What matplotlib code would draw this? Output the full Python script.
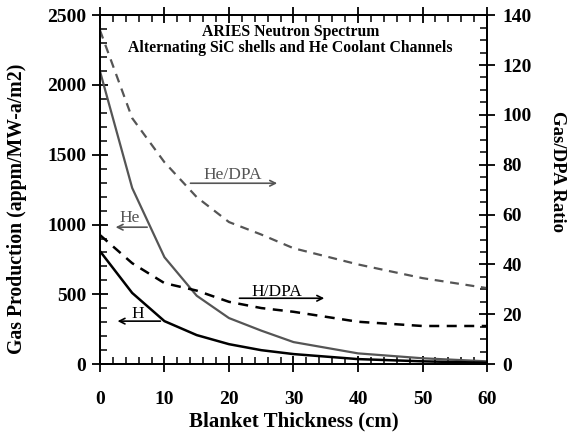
import matplotlib
matplotlib.use('Agg')
import matplotlib.pyplot as plt
from matplotlib.ticker import MultipleLocator

plt.rcParams['font.family'] = 'Liberation Serif'
plt.rcParams['font.weight'] = 'bold'
plt.rcParams['axes.labelweight'] = 'bold'

# blanket thickness (cm)
thick = [0, 5, 10, 15, 20, 25, 30, 40, 50, 60]
# gas production (appm/MW-a/m2)
he_prod = [2100, 1262, 766, 490, 330, 240, 158, 77, 42, 20]
h_prod = [810, 510, 308, 208, 143, 100, 72, 36, 20, 10]
# gas / dpa ratio
he_dpa = [134, 98.7, 81, 67, 57, 52, 46.5, 40, 34.5, 30.5]
h_dpa = [51.8, 40.5, 32.5, 29.5, 25, 22.5, 21, 17, 15.3, 15.3]

GRAY = '#555555'

fig = plt.figure(figsize=(5.71, 4.34), dpi=100)
ax = fig.add_axes([0.175, 0.161, 0.678, 0.804])
ax2 = ax.twinx()

ax.plot(thick, he_prod, color=GRAY, lw=1.6)
ax.plot(thick, h_prod, color='black', lw=1.8)
ax2.plot(thick, he_dpa, color=GRAY, lw=1.6, ls=(0, (4, 3)))
ax2.plot(thick, h_dpa, color='black', lw=1.8, ls=(0, (4, 3)))

ax.set_xlim(0, 60)
ax.set_ylim(0, 2500)
ax2.set_ylim(0, 140)

ax.xaxis.set_major_locator(MultipleLocator(10))
ax.xaxis.set_minor_locator(MultipleLocator(2))
ax.yaxis.set_major_locator(MultipleLocator(500))
ax.yaxis.set_minor_locator(MultipleLocator(100))
ax2.yaxis.set_major_locator(MultipleLocator(20))
ax2.yaxis.set_minor_locator(MultipleLocator(5))

for a in (ax, ax2):
    for s in a.spines.values():
        s.set_linewidth(1.3)
ax.tick_params(which='major', direction='inout', length=12, width=1.3,
               top=True, labelsize=14, pad=4)
ax.tick_params(which='minor', direction='in', length=5, width=1.1, top=True)
ax.tick_params(axis='x', which='major', pad=13)
ax2.tick_params(which='major', direction='inout', length=12, width=1.3,
                labelsize=14, pad=5)
ax2.tick_params(which='minor', direction='in', length=5, width=1.1)

ax.set_xlabel('Blanket Thickness (cm)', fontsize=15, labelpad=3)
ax.set_ylabel('Gas Production (appm/MW-a/m2)', fontsize=14.2, va='center')
ax.yaxis.set_label_coords(-0.214, 0.444)
ax2.set_ylabel('Gas/DPA Ratio', fontsize=13.5, rotation=270, va='center')
ax2.yaxis.set_label_coords(1.183, 0.553)

ax.text(29.5, 2377, 'ARIES Neutron Spectrum', ha='center', va='center', fontsize=11.3)
ax.text(29.5, 2262, 'Alternating SiC shells and He Coolant Channels',
        ha='center', va='center', fontsize=11.3)

arrow_gray = dict(arrowstyle='->', color=GRAY, lw=1.2)
arrow_black = dict(arrowstyle='->', color='black', lw=1.2)
ax.annotate('', xy=(27.9, 1296), xytext=(13.6, 1296), arrowprops=arrow_gray)
ax.text(20.6, 1353, 'He/DPA', color=GRAY, fontsize=12.5, fontweight='normal',
        ha='center', va='center')
ax.annotate('', xy=(2.0, 981), xytext=(7.75, 981), arrowprops=arrow_gray)
ax.text(4.6, 1045, 'He', color=GRAY, fontsize=12.5, fontweight='normal',
        ha='center', va='center')
ax.annotate('', xy=(35.2, 472), xytext=(21.2, 472), arrowprops=arrow_black)
ax.text(27.4, 516, 'H/DPA', color='black', fontsize=12.5, fontweight='normal',
        ha='center', va='center')
ax.annotate('', xy=(2.3, 308), xytext=(9.8, 308), arrowprops=arrow_black)
ax.text(5.9, 358, 'H', color='black', fontsize=12.5, fontweight='normal',
        ha='center', va='center')

fig.savefig('out.png', dpi=100)
